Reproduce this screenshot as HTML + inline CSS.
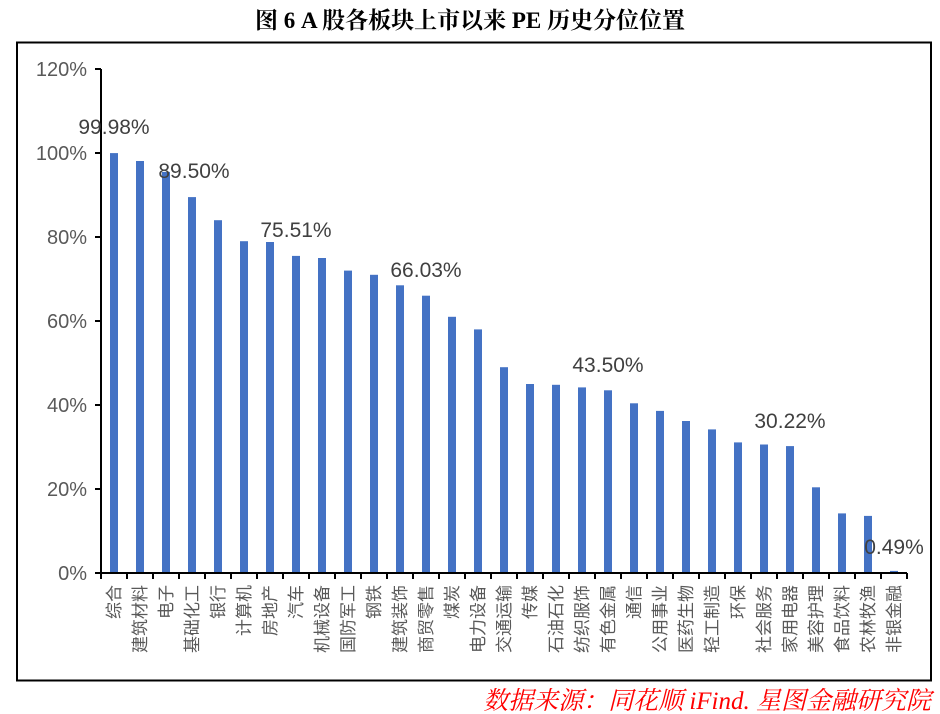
<!DOCTYPE html>
<html><head><meta charset="utf-8"><style>
html,body{margin:0;padding:0;background:#fff;}
svg{display:block;}
</style></head><body>
<svg width="940" height="714" xmlns="http://www.w3.org/2000/svg">
<text x="470" y="28" text-anchor="middle" font-family="'Liberation Serif','Noto Serif CJK SC',serif" font-size="23" font-weight="bold" fill="#000">图 6 A 股各板块上市以来 PE 历史分位位置</text>
<rect x="17" y="42.5" width="914" height="638" fill="none" stroke="#000" stroke-width="2"/>
<g font-family="'Liberation Sans','Noto Sans CJK SC',sans-serif" font-size="20" fill="#595959" text-anchor="end">
<text x="87" y="76">120%</text>
<text x="87" y="160">100%</text>
<text x="87" y="244">80%</text>
<text x="87" y="328">60%</text>
<text x="87" y="412">40%</text>
<text x="87" y="496">20%</text>
<text x="87" y="580">0%</text>
</g>
<g fill="#4472C4">
<rect x="110" y="153.1" width="8" height="419.9"/>
<rect x="136" y="161.0" width="8" height="412.0"/>
<rect x="162" y="171.9" width="8" height="401.1"/>
<rect x="188" y="197.1" width="8" height="375.9"/>
<rect x="214" y="220.2" width="8" height="352.8"/>
<rect x="240" y="241.2" width="8" height="331.8"/>
<rect x="266" y="242.0" width="8" height="331.0"/>
<rect x="292" y="255.9" width="8" height="317.1"/>
<rect x="318" y="258.0" width="8" height="315.0"/>
<rect x="344" y="270.6" width="8" height="302.4"/>
<rect x="370" y="274.8" width="8" height="298.2"/>
<rect x="396" y="285.3" width="8" height="287.7"/>
<rect x="422" y="295.7" width="8" height="277.3"/>
<rect x="448" y="316.8" width="8" height="256.2"/>
<rect x="474" y="329.4" width="8" height="243.6"/>
<rect x="500" y="367.2" width="8" height="205.8"/>
<rect x="526" y="384.0" width="8" height="189.0"/>
<rect x="552" y="384.8" width="8" height="188.2"/>
<rect x="578" y="387.4" width="8" height="185.6"/>
<rect x="604" y="390.3" width="8" height="182.7"/>
<rect x="630" y="403.3" width="8" height="169.7"/>
<rect x="656" y="410.9" width="8" height="162.1"/>
<rect x="682" y="421.0" width="8" height="152.0"/>
<rect x="708" y="429.4" width="8" height="143.6"/>
<rect x="734" y="442.4" width="8" height="130.6"/>
<rect x="760" y="444.5" width="8" height="128.5"/>
<rect x="786" y="446.1" width="8" height="126.9"/>
<rect x="812" y="487.3" width="8" height="85.7"/>
<rect x="838" y="513.4" width="8" height="59.6"/>
<rect x="864" y="515.9" width="8" height="57.1"/>
<rect x="890" y="570.9" width="8" height="2.1"/>
</g>
<g stroke="#000" stroke-width="2" fill="none">
<line x1="101" y1="69" x2="101" y2="574"/>
<path d="M95 69H101M95 153H101M95 237H101M95 321H101M95 405H101M95 489H101"/>
<line x1="95" y1="573" x2="907" y2="573"/>
<path d="M101 573V579M127 573V579M153 573V579M179 573V579M205 573V579M231 573V579M257 573V579M283 573V579M309 573V579M335 573V579M361 573V579M387 573V579M413 573V579M439 573V579M465 573V579M491 573V579M517 573V579M543 573V579M569 573V579M595 573V579M621 573V579M647 573V579M673 573V579M699 573V579M725 573V579M751 573V579M777 573V579M803 573V579M829 573V579M855 573V579M881 573V579M907 573V579"/>
</g>
<g font-family="'Liberation Sans','Noto Sans CJK SC',sans-serif" font-size="17" fill="#595959" text-anchor="end">
<text transform="translate(120,585) rotate(-90)">综合</text>
<text transform="translate(146,585) rotate(-90)">建筑材料</text>
<text transform="translate(172,585) rotate(-90)">电子</text>
<text transform="translate(198,585) rotate(-90)">基础化工</text>
<text transform="translate(224,585) rotate(-90)">银行</text>
<text transform="translate(250,585) rotate(-90)">计算机</text>
<text transform="translate(276,585) rotate(-90)">房地产</text>
<text transform="translate(302,585) rotate(-90)">汽车</text>
<text transform="translate(328,585) rotate(-90)">机械设备</text>
<text transform="translate(354,585) rotate(-90)">国防军工</text>
<text transform="translate(380,585) rotate(-90)">钢铁</text>
<text transform="translate(406,585) rotate(-90)">建筑装饰</text>
<text transform="translate(432,585) rotate(-90)">商贸零售</text>
<text transform="translate(458,585) rotate(-90)">煤炭</text>
<text transform="translate(484,585) rotate(-90)">电力设备</text>
<text transform="translate(510,585) rotate(-90)">交通运输</text>
<text transform="translate(536,585) rotate(-90)">传媒</text>
<text transform="translate(562,585) rotate(-90)">石油石化</text>
<text transform="translate(588,585) rotate(-90)">纺织服饰</text>
<text transform="translate(614,585) rotate(-90)">有色金属</text>
<text transform="translate(640,585) rotate(-90)">通信</text>
<text transform="translate(666,585) rotate(-90)">公用事业</text>
<text transform="translate(692,585) rotate(-90)">医药生物</text>
<text transform="translate(718,585) rotate(-90)">轻工制造</text>
<text transform="translate(744,585) rotate(-90)">环保</text>
<text transform="translate(770,585) rotate(-90)">社会服务</text>
<text transform="translate(796,585) rotate(-90)">家用电器</text>
<text transform="translate(822,585) rotate(-90)">美容护理</text>
<text transform="translate(848,585) rotate(-90)">食品饮料</text>
<text transform="translate(874,585) rotate(-90)">农林牧渔</text>
<text transform="translate(900,585) rotate(-90)">非银金融</text>
</g>
<g font-family="'Liberation Sans',sans-serif" font-size="21" fill="#404040" text-anchor="middle">
<text x="114" y="134">99.98%</text>
<text x="194" y="178">89.50%</text>
<text x="296" y="237">75.51%</text>
<text x="426" y="277">66.03%</text>
<text x="608" y="372">43.50%</text>
<text x="790" y="428">30.22%</text>
<text x="894" y="554">0.49%</text>
</g>
<text x="931" y="709" text-anchor="end" font-family="'Liberation Serif','Noto Serif CJK SC',serif" font-size="25" font-style="italic" fill="#FF0000">数据来源：同花顺 iFind. 星图金融研究院</text>
</svg>
</body></html>
